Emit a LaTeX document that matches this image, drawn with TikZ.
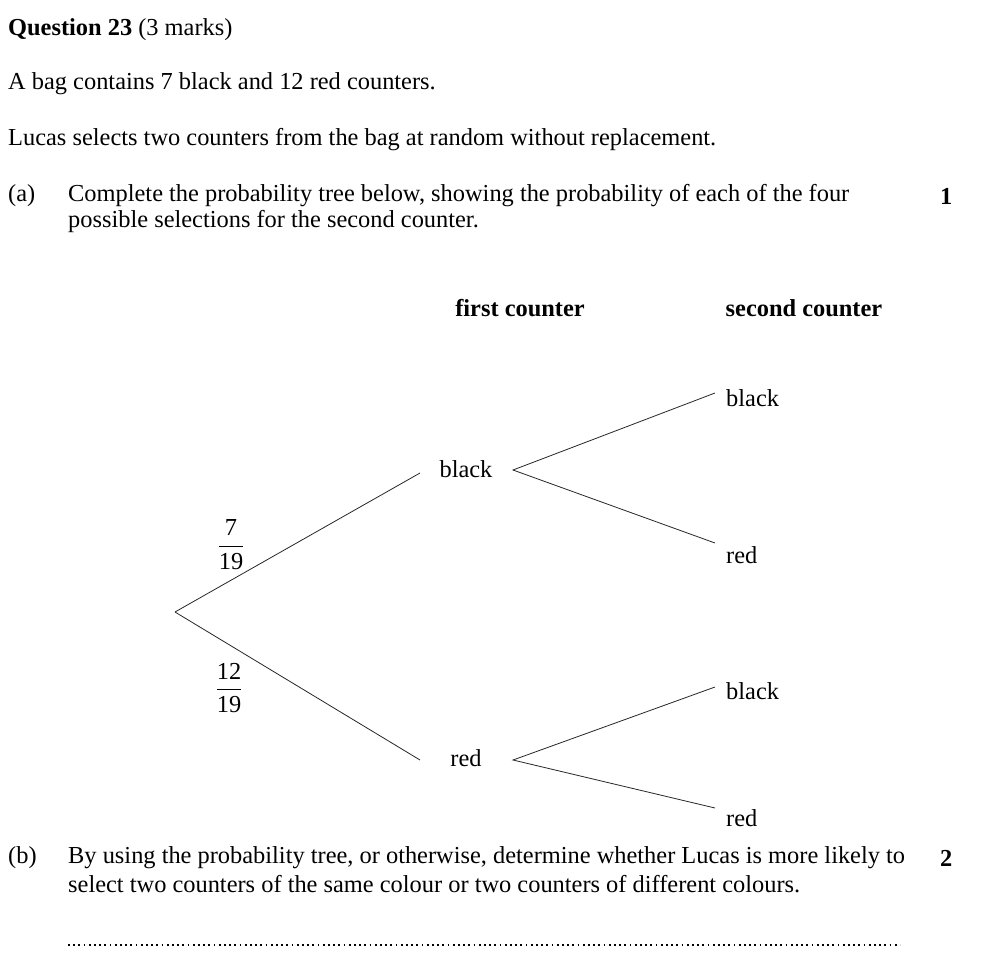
\documentclass[tikz,border=0pt]{standalone}
\usepackage{amsmath}
\usepackage{fontspec}
\setmainfont{Liberation Serif}
\begin{document}
\begin{tikzpicture}[x=1pt,y=-1pt,
  txt/.style={inner sep=0pt,font=\fontsize{24.4}{29}\selectfont},
  lt/.style={txt,anchor=west},
  br/.style={line width=0.8pt,black!85}]
\useasboundingbox (0,0) rectangle (988,964);
\node[lt] (q) at (8,30) {\textbf{Question 23} (3 marks)};
\node[lt] (s1) at (8,84) {A bag contains 7 black and 12 red counters.};
\node[lt] (s2) at (8,140) {Lucas selects two counters from the bag at random without replacement.};
\node[lt] (a) at (8,196) {(a)};
\node[lt] (at1) at (68,196) {Complete the probability tree below, showing the probability of each of the four};
\node[lt] (at2) at (68,222) {possible selections for the second counter.};
\node[lt] (m1) at (940,196) {\textbf{1}};
\node[txt] (h1) at (520,308) {\textbf{first counter}};
\node[txt] (h2) at (804,308) {\textbf{second counter}};
\coordinate (root) at (175,612);
\coordinate (e1) at (420,473);
\coordinate (e2) at (420,760);
\coordinate (u) at (513,470);
\coordinate (l) at (513,760);
\coordinate (ub) at (715,393);
\coordinate (ur) at (715,543);
\coordinate (lb) at (715,687);
\coordinate (lr) at (715,808);
\draw[br] (root) -- (e1);
\draw[br] (root) -- (e2);
\draw[br] (ub) -- (u) -- (ur);
\draw[br] (lb) -- (l) -- (lr);
\node[txt] (nb) at (466,469) {black};
\node[txt] (nr) at (466,758) {red};
\node[lt] (ubt) at (726,398) {black};
\node[lt] (urt) at (726,555) {red};
\node[lt] (lbt) at (726,691) {black};
\node[lt] (lrt) at (726,818) {red};
\node[txt] (f1) at (231,545) {$\dfrac{\text{7}}{\text{19}}$};
\node[txt] (f2) at (229,688) {$\dfrac{\text{12}}{\text{19}}$};
\node[lt] (b) at (8,858) {(b)};
\node[lt] (bt1) at (68,858) {By using the probability tree, or otherwise, determine whether Lucas is more likely to};
\node[lt] (bt2) at (68,884) {select two counters of the same colour or two counters of different colours.};
\node[lt] (m2) at (940,858) {\textbf{2}};
\coordinate (d1) at (68,945);
\coordinate (d2) at (900,945);
\draw[line width=1.8pt,dash pattern=on 1.8pt off 3.4pt] (d1) -- (d2);
\end{tikzpicture}
\end{document}
